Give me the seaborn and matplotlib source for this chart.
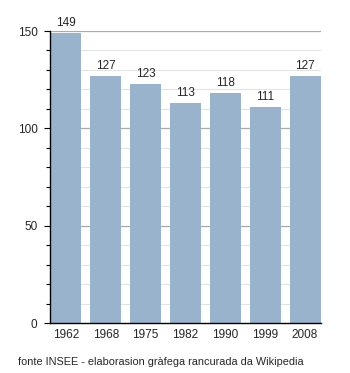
import matplotlib
matplotlib.use("Agg")
import matplotlib.pyplot as plt
from matplotlib.ticker import MultipleLocator
import seaborn as sns
import pandas as pd

years = ["1962", "1968", "1975", "1982", "1990", "1999", "2008"]
population = [149, 127, 123, 113, 118, 111, 127]
caption = "fonte INSEE - elaborasion gràfega rancurada da Wikipedia"

sns.set_style("white")
plt.rcParams["font.family"] = ["Liberation Sans", "DejaVu Sans"]

df = pd.DataFrame({"year": years, "pop": population})

fig = plt.figure(figsize=(3.5, 3.73), dpi=100)
ax = fig.add_axes([50 / 350, 1 - 323 / 373, 271 / 350, 292 / 373])

sns.barplot(data=df, x="year", y="pop", color="#9ab3cd", saturation=1,
            width=0.78, linewidth=0, edgecolor="none", ax=ax)
for p in ax.patches:
    p.set_zorder(3)

ax.set_ylim(0, 150)
ax.set_xlim(-0.40, 6.40)
ax.yaxis.set_major_locator(MultipleLocator(50))
ax.yaxis.set_minor_locator(MultipleLocator(10))
ax.grid(False)

# horizontal guide lines behind the bars
major = [t for t in ax.yaxis.get_majorticklocs() if 0 < t <= 150]
minor = [t for t in ax.yaxis.get_minorticklocs() if 0 < t < 150 and t % 50]
for t in minor:
    ax.axhline(t, color="#e3e3e3", linewidth=0.8, zorder=0.5)
for t in major:
    ax.axhline(t, color="#aaaaaa", linewidth=0.9, zorder=0.6)

for s in ("top", "right"):
    ax.spines[s].set_visible(False)
for s in ("left", "bottom"):
    ax.spines[s].set_color("black")
    ax.spines[s].set_linewidth(1.0)
    ax.spines[s].set_zorder(5)

ax.tick_params(axis="y", which="major", left=True, length=4, width=0.8,
               color="black", labelsize=8.5, pad=5)
ax.tick_params(axis="y", which="minor", left=True, length=3, width=0.8,
               color="black")
ax.tick_params(axis="x", bottom=False, labelsize=8.5, pad=1)
ax.set_xlabel("")
ax.set_ylabel("")

for i, v in enumerate(population):
    ax.text(i, v + 2, str(v), ha="center", va="bottom", fontsize=8.5,
            clip_on=False)

fig.text(18 / 350, 1 - 362 / 373, caption, fontsize=7.8, ha="left",
         va="center")

fig.savefig("out.png", dpi=100)
